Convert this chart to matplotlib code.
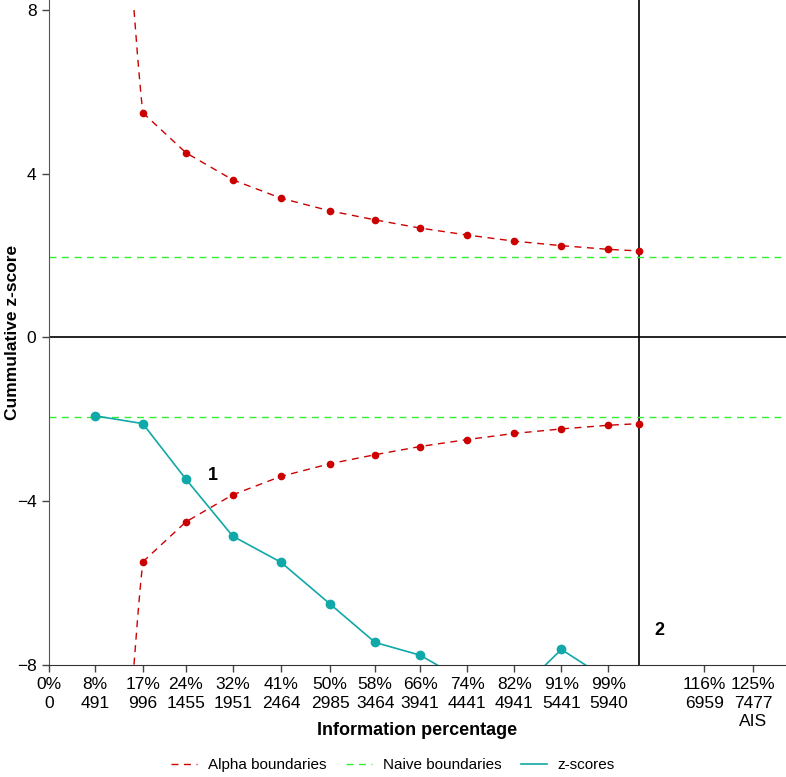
import matplotlib
matplotlib.use("Agg")
import matplotlib.pyplot as plt
import numpy as np

plt.rcParams['font.family'] = ['Liberation Sans', 'DejaVu Sans']

# information size ticks
tick_pos = [0, 491, 996, 1455, 1951, 2464, 2985, 3464, 3941, 4441, 4941, 5441, 5940, 6959, 7477]
tick_pct = ["0%", "8%", "17%", "24%", "32%", "41%", "50%", "58%", "66%", "74%", "82%", "91%", "99%", "116%", "125%"]
tick_lab = [p + "\n" + str(n) for p, n in zip(tick_pct, tick_pos)]
tick_lab[-1] += "\nAIS"

# alpha spending boundaries (marked points)
bound_x = [996, 1455, 1951, 2464, 2985, 3464, 3941, 4441, 4941, 5441, 5940, 6270]
bound_z = [5.49, 4.51, 3.85, 3.40, 3.09, 2.87, 2.67, 2.50, 2.35, 2.24, 2.15, 2.11]
# steep part of the boundary before the first look
curve_x = [903, 920, 940, 966, 985, 996]
curve_z = [8.0, 7.5, 6.9, 6.2, 5.75, 5.49]

# cumulative z-scores
z_x = [491, 996, 1455, 1951, 2464, 2985, 3464, 3941, 4441, 4941, 5441, 5940]
z_val = [-1.92, -2.11, -3.47, -4.86, -5.50, -6.52, -7.46, -7.77, -8.43, -8.76, -7.63, -8.37]

ris = 6270
naive = 1.96

red = "#CC0000"
green = "#33EE33"
teal = "#10A8A8"

fig = plt.figure(figsize=(7.86, 7.77), dpi=100)
ax = fig.add_axes([0.0623, 0.1447, 0.9377, 0.8553])

ax.axhline(0, color="black", lw=1.2, zorder=1)
ax.axvline(ris, color="black", lw=1.2, zorder=1)
ax.axhline(naive, color=green, lw=1.0, ls=(0, (5, 4)), zorder=2)
ax.axhline(-naive, color=green, lw=1.0, ls=(0, (5, 4)), zorder=2)

for s in [1, -1]:
    ax.plot(curve_x, s * np.array(curve_z), color=red, lw=1.0, ls=(0, (5, 4)), zorder=3)
    ax.plot(bound_x, s * np.array(bound_z), color=red, lw=1.0, ls=(0, (5, 4)),
            marker="o", ms=4.5, zorder=3)

ax.plot(z_x, z_val, color=teal, lw=1.2, marker="o", ms=6, zorder=4)

# legend proxies
ax.plot([], [], color=red, lw=1.0, ls=(0, (5, 4)), label="Alpha boundaries")
ax.plot([], [], color=green, lw=1.0, ls=(0, (5, 4)), label="Naive boundaries")
ax.plot([], [], color=teal, lw=1.2, label="z-scores")
h, l = ax.get_legend_handles_labels()
fig.legend(h[-3:], l[-3:], loc="center", bbox_to_anchor=(0.5, 0.015), ncol=3,
           frameon=False, fontsize=11, handlelength=1.7, handletextpad=0.7,
           columnspacing=1.3)

ax.text(1742, -3.37, "1", fontsize=13, fontweight="bold", ha="center", va="center")
ax.text(6478, -7.16, "2", fontsize=13, fontweight="bold", ha="center", va="center")

ax.set_xlim(0, 7827)
ax.set_ylim(-8, 8.245)
ax.set_xticks(tick_pos)
ax.set_xticklabels(tick_lab, fontsize=12.5, linespacing=1.3)
ax.set_yticks([8, 4, 0, -4, -8])
ax.set_yticklabels(["8", "4", "0", "\u22124", "\u22128"], fontsize=12.5)
ax.tick_params(direction="out", length=5, width=1, color="#444444", pad=4)

ax.spines["top"].set_visible(False)
ax.spines["right"].set_visible(False)
ax.spines["left"].set_color("#555555")
ax.spines["bottom"].set_color("#333333")

ax.set_xlabel("Information percentage", fontsize=13, fontweight="bold")
ax.xaxis.set_label_coords(0.5, -0.086)
ax.set_ylabel("Cummulative z-score", fontsize=12.5, fontweight="bold")
ax.yaxis.set_label_coords(-0.039, 0.5)

fig.savefig("out.png", dpi=100)
